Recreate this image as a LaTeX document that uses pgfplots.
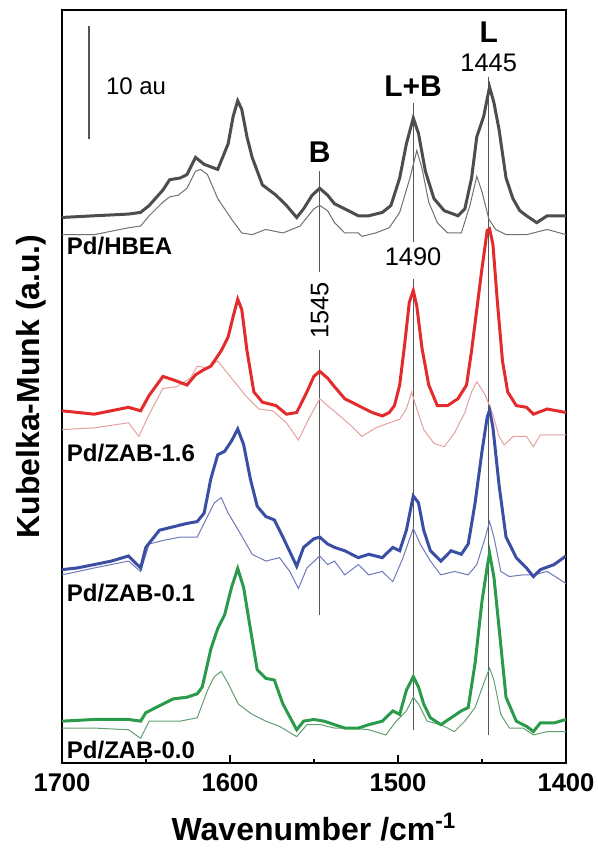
\documentclass[border=0pt]{standalone}
\usepackage{fontspec}
\setmainfont{Liberation Sans}
\usepackage{pgfplots}
\pgfplotsset{compat=1.18}

\definecolor{grThick}{HTML}{4D4D4D}
\definecolor{grThin}{HTML}{707070}
\definecolor{rdThick}{HTML}{E32B2B}
\definecolor{rdThin}{HTML}{E6A0A0}
\definecolor{blThick}{HTML}{3A4FA3}
\definecolor{blThin}{HTML}{6D79B8}
\definecolor{gnThick}{HTML}{2B9A4A}
\definecolor{gnThin}{HTML}{5F9F70}
\definecolor{vline}{HTML}{555555}

\begin{document}
\begin{tikzpicture}
\begin{axis}[
    scale only axis,
    width=252pt, height=376.5pt,
    x dir=reverse,
    xmin=1400, xmax=1700,
    ymin=0, ymax=66.6,
    xtick={1400,1500,1600,1700},
    minor xtick={1450,1550,1650},
    xtick pos=bottom,
    ytick=\empty,
    tick align=inside,
    major tick length=4pt,
    minor tick length=2pt,
    every tick/.style={black, line width=1pt},
    axis line style={line width=1.2pt},
    /pgf/number format/assume math mode=true,
    /pgf/number format/set thousands separator={},
    ticklabel style={font=\bfseries\fontsize{12.8}{14}\selectfont},
    xticklabel style={yshift=-2pt},
    xlabel={Wavenumber /cm\textsuperscript{-1}},
    xlabel style={font=\bfseries\fontsize{16}{18}\selectfont, at={(axis description cs:0.5,0)}, anchor=center, yshift=-32pt},
]
% peak marker lines
\addplot[vline, line width=0.6pt] coordinates {(1546.6,52.35) (1546.6,43.4)};
\addplot[vline, line width=0.6pt] coordinates {(1546.6,36.5) (1546.6,13.1)};
\addplot[vline, line width=0.6pt] coordinates {(1491,58.4) (1491,46.1)};
\addplot[vline, line width=0.6pt] coordinates {(1491,42.8) (1491,2.9)};
\addplot[vline, line width=0.6pt] coordinates {(1446,60.7) (1446,2.5)};
% scale bar
\addplot[vline, line width=0.6pt] coordinates {(1683.9,65.2) (1683.9,55.2)};

% Pd/HBEA
\addplot[grThin, line width=0.5pt] coordinates {
(1700,46.73) (1680.8,46.73) (1660.4,47.34) (1653.2,47.49) (1648.1,48.40) (1639.9,49.61) (1635.9,50.07) (1630.8,50.22) (1625.6,50.83) (1620.5,52.34) (1617.5,52.50) (1613.4,52.04) (1607.3,49.92) (1599.1,48.10) (1593.0,46.88) (1586.8,46.73) (1578.7,47.19) (1568.5,46.88) (1558.3,47.49) (1550.1,49.01) (1546.6,49.31) (1541.9,48.85) (1537.8,47.79) (1531.7,46.88) (1523.6,46.88) (1521.5,46.58) (1513.3,46.88) (1505.2,47.34) (1499.0,48.70) (1492.9,51.74) (1488.8,54.17) (1485.8,52.65) (1481.7,49.61) (1476.6,47.79) (1470.5,46.88) (1462.3,46.88) (1457.2,49.31) (1453.1,51.89) (1450.0,50.52) (1445.9,48.10) (1441.9,47.19) (1435.7,46.73) (1423.5,46.73) (1411.2,47.19) (1400,46.73)
};
\addplot[grThick, line width=1.5pt] coordinates {
(1700,48.25) (1680.8,48.40) (1660.4,48.55) (1653.2,48.70) (1648.1,49.31) (1639.9,50.68) (1635.9,51.59) (1629.7,51.74) (1625.6,52.04) (1620.5,53.56) (1615.4,52.95) (1607.3,52.50) (1601.1,54.77) (1598.1,57.20) (1595.4,58.57) (1593.0,57.81) (1589.9,55.38) (1586.8,53.56) (1580.7,51.13) (1572.6,50.22) (1566.4,49.31) (1560.3,48.25) (1556.2,49.01) (1551.1,50.22) (1546.6,50.83) (1541.9,50.22) (1537.8,49.46) (1531.7,49.01) (1523.6,48.40) (1517.4,48.40) (1509.3,48.70) (1504.2,49.31) (1499.0,51.74) (1495.0,54.77) (1490.9,57.05) (1487.8,55.68) (1483.7,52.34) (1478.6,49.92) (1472.5,48.85) (1464.3,48.40) (1460.2,49.01) (1456.2,51.74) (1453.1,55.38) (1449.0,57.20) (1445.5,59.78) (1442.9,58.41) (1439.8,55.99) (1435.7,51.74) (1431.6,49.92) (1427.5,48.85) (1423.5,48.40) (1417.4,47.79) (1411.2,48.40) (1400,48.40)
};

% Pd/ZAB-1.6
\addplot[rdThin, line width=0.5pt] coordinates {
(1700,29.49) (1680.8,29.64) (1660.4,30.09) (1654.2,28.88) (1648.1,30.85) (1639.9,33.13) (1631.8,33.28) (1623.6,34.04) (1619.5,35.10) (1613.4,34.95) (1607.3,35.56) (1599.1,34.04) (1590.9,32.52) (1582.8,31.31) (1574.6,31.15) (1566.4,30.09) (1559.3,28.57) (1553.2,30.40) (1546.6,32.22) (1541.9,31.61) (1535.8,30.85) (1527.6,29.79) (1521.5,28.88) (1513.3,29.64) (1505.2,30.09) (1499.0,30.40) (1495.0,31.31) (1491.9,32.82) (1488.8,31.31) (1484.7,29.49) (1478.6,28.27) (1472.5,27.97) (1466.4,29.18) (1460.2,31.00) (1456.2,32.82) (1453.1,33.73) (1448.0,32.52) (1443.9,31.00) (1439.8,28.88) (1436.8,28.12) (1431.6,28.88) (1423.5,28.88) (1419.4,27.97) (1415.3,29.03) (1400,29.03)
};
\addplot[rdThick, line width=1.5pt] coordinates {
(1700,31.15) (1680.8,30.85) (1660.4,31.46) (1653.2,31.15) (1648.1,32.52) (1639.9,34.19) (1633.8,33.89) (1625.6,33.43) (1620.5,34.34) (1615.4,34.80) (1611.4,35.10) (1605.2,36.47) (1601.1,37.68) (1598.1,39.50) (1595.4,41.02) (1593.0,40.11) (1589.9,36.47) (1585.8,32.82) (1580.7,31.91) (1572.6,31.61) (1566.4,30.85) (1560.3,31.00) (1554.2,32.82) (1550.1,34.19) (1546.6,34.64) (1541.9,34.04) (1537.8,33.28) (1531.7,32.22) (1523.6,31.61) (1515.4,31.00) (1509.3,30.70) (1505.2,31.00) (1502.1,31.61) (1499.0,33.43) (1496.0,37.07) (1493.3,40.71) (1490.9,41.78) (1488.8,40.41) (1485.8,36.77) (1481.7,33.43) (1476.6,31.61) (1470.5,31.61) (1464.3,32.22) (1459.2,33.43) (1456.2,36.47) (1453.1,40.11) (1450.0,43.75) (1446.9,47.09) (1445.5,47.24) (1443.5,45.87) (1440.8,40.71) (1437.8,35.56) (1434.7,32.82) (1429.6,31.61) (1423.5,31.46) (1419.4,30.85) (1411.2,31.31) (1400,31.00)
};

% Pd/ZAB-0.1
\addplot[blThin, line width=0.5pt] coordinates {
(1700,16.64) (1680.8,17.25) (1660.4,17.86) (1653.2,16.94) (1648.1,19.37) (1639.9,19.68) (1629.7,19.98) (1619.5,19.98) (1613.4,21.80) (1609.3,23.01) (1605.2,23.47) (1601.1,22.10) (1595.0,20.59) (1586.8,18.46) (1578.7,17.86) (1570.5,18.16) (1564.4,16.94) (1559.3,15.43) (1554.2,17.25) (1546.6,18.31) (1541.9,17.55) (1537.8,17.86) (1531.7,16.64) (1523.6,17.55) (1517.4,16.64) (1509.3,16.94) (1503.1,16.03) (1497.0,18.16) (1490.9,20.74) (1486.8,19.37) (1480.7,17.86) (1474.5,16.64) (1466.4,16.94) (1458.2,16.64) (1453.1,17.55) (1448.0,19.98) (1445.5,21.35) (1442.9,19.98) (1438.8,16.94) (1433.7,16.49) (1425.5,16.64) (1419.4,16.64) (1411.2,16.94) (1400,15.88)
};
\addplot[blThick, line width=1.5pt] coordinates {
(1700,17.10) (1691.0,17.25) (1680.8,17.55) (1670.6,17.86) (1660.4,18.31) (1653.2,17.25) (1650.1,19.07) (1642.0,20.59) (1633.8,20.89) (1625.6,21.19) (1619.5,21.35) (1615.4,22.10) (1611.4,25.14) (1607.3,27.26) (1603.2,27.57) (1599.1,28.48) (1595.4,29.54) (1591.9,28.17) (1587.9,25.14) (1583.8,22.71) (1578.7,21.80) (1573.6,21.50) (1568.5,19.98) (1560.3,17.40) (1556.2,19.07) (1550.1,19.83) (1546.6,19.98) (1541.9,19.37) (1537.8,19.07) (1531.7,18.77) (1523.6,18.16) (1517.4,18.46) (1509.3,18.16) (1503.1,19.07) (1499.0,18.77) (1495.0,20.59) (1490.9,23.62) (1487.8,23.01) (1484.7,20.59) (1480.7,18.77) (1474.5,17.86) (1468.4,18.77) (1462.3,18.46) (1458.2,19.37) (1454.1,23.01) (1450.0,27.57) (1446.9,30.60) (1445.5,31.21) (1443.5,29.69) (1439.8,24.53) (1435.7,19.98) (1429.6,18.16) (1423.5,17.25) (1419.4,16.49) (1415.3,17.10) (1407.1,17.55) (1400,18.31)
};

% Pd/ZAB-0.0
\addplot[gnThin, line width=0.5pt] coordinates {
(1700,3.09) (1680.8,3.09) (1660.4,2.94) (1653.2,2.18) (1648.1,3.70) (1639.9,3.70) (1629.7,3.70) (1619.5,4.00) (1613.4,6.43) (1609.3,7.64) (1605.2,8.10) (1601.1,7.03) (1595.0,5.21) (1586.8,4.30) (1578.7,3.70) (1570.5,3.24) (1560.3,2.33) (1554.2,3.39) (1546.0,3.39) (1537.8,3.09) (1527.6,3.09) (1517.4,2.94) (1507.2,2.48) (1501.1,3.70) (1495.0,4.61) (1490.9,5.82) (1487.8,5.21) (1482.7,3.70) (1474.5,3.39) (1466.4,2.78) (1460.2,3.70) (1454.1,4.91) (1449.0,7.03) (1445.5,8.40) (1442.9,7.34) (1438.8,4.30) (1433.7,3.09) (1425.5,3.09) (1419.4,2.48) (1411.2,2.78) (1400,2.78)
};
\addplot[gnThick, line width=1.5pt] coordinates {
(1700,3.70) (1680.8,3.85) (1660.4,3.85) (1653.2,3.70) (1650.1,4.45) (1642.0,5.06) (1633.8,5.67) (1625.6,5.82) (1619.5,6.12) (1616.5,6.73) (1611.4,10.07) (1607.3,11.89) (1603.2,13.10) (1599.1,15.53) (1595.4,17.20) (1591.9,15.53) (1587.9,11.89) (1583.8,8.25) (1578.7,7.49) (1573.6,7.34) (1568.5,5.21) (1560.3,2.94) (1556.2,3.70) (1550.1,3.85) (1544.0,3.70) (1537.8,3.39) (1531.7,3.09) (1523.6,3.09) (1517.4,3.39) (1509.3,3.70) (1503.1,4.61) (1499.0,4.30) (1495.0,6.43) (1490.9,7.64) (1487.8,6.73) (1484.7,5.21) (1480.7,4.00) (1474.5,3.39) (1468.4,4.00) (1462.3,4.61) (1458.2,4.91) (1454.1,8.85) (1450.0,14.32) (1446.9,17.35) (1445.5,18.57) (1442.9,16.44) (1439.8,11.89) (1435.7,5.82) (1429.6,3.70) (1423.5,3.24) (1419.4,2.78) (1415.3,3.54) (1407.1,3.54) (1400,3.85)
};

% annotations
\node[anchor=west, font=\fontsize{12}{14}\selectfont] at (axis cs:1678,59.9) {10 au};
\node[font=\bfseries\fontsize{15}{17}\selectfont] at (axis cs:1546.6,54.0) {B};
\node[font=\bfseries\fontsize{15}{17}\selectfont] at (axis cs:1491,59.9) {L+B};
\node[font=\bfseries\fontsize{15}{17}\selectfont] at (axis cs:1446,64.6) {L};
\node[font=\fontsize{12.7}{14}\selectfont] at (axis cs:1446,61.9) {1445};
\node[font=\fontsize{12.7}{14}\selectfont] at (axis cs:1491,44.8) {1490};
\node[rotate=90, font=\fontsize{12.7}{14}\selectfont] at (axis cs:1546.6,40.0) {1545};
\node[anchor=west, inner sep=1pt, font=\bfseries\fontsize{12}{14}\selectfont] at (axis cs:1698.5,45.7) {Pd/HBEA};
\node[anchor=west, inner sep=1pt, font=\bfseries\fontsize{12}{14}\selectfont] at (axis cs:1698.5,27.4) {Pd/ZAB-1.6};
\node[anchor=west, inner sep=1pt, font=\bfseries\fontsize{12}{14}\selectfont] at (axis cs:1698.5,15.0) {Pd/ZAB-0.1};
\node[anchor=west, inner sep=1pt, font=\bfseries\fontsize{12}{14}\selectfont] at (axis cs:1698.5,1.15) {Pd/ZAB-0.0};
\end{axis}
\node[rotate=90, font=\bfseries\fontsize{16}{18}\selectfont] at ([xshift=-15.5pt]current axis.west) {Kubelka-Munk (a.u.)};
\pgfresetboundingbox
\path[use as bounding box] ([xshift=-31pt,yshift=-43pt]current axis.south west) rectangle ([xshift=16pt,yshift=5pt]current axis.north east);
\end{tikzpicture}
\end{document}
